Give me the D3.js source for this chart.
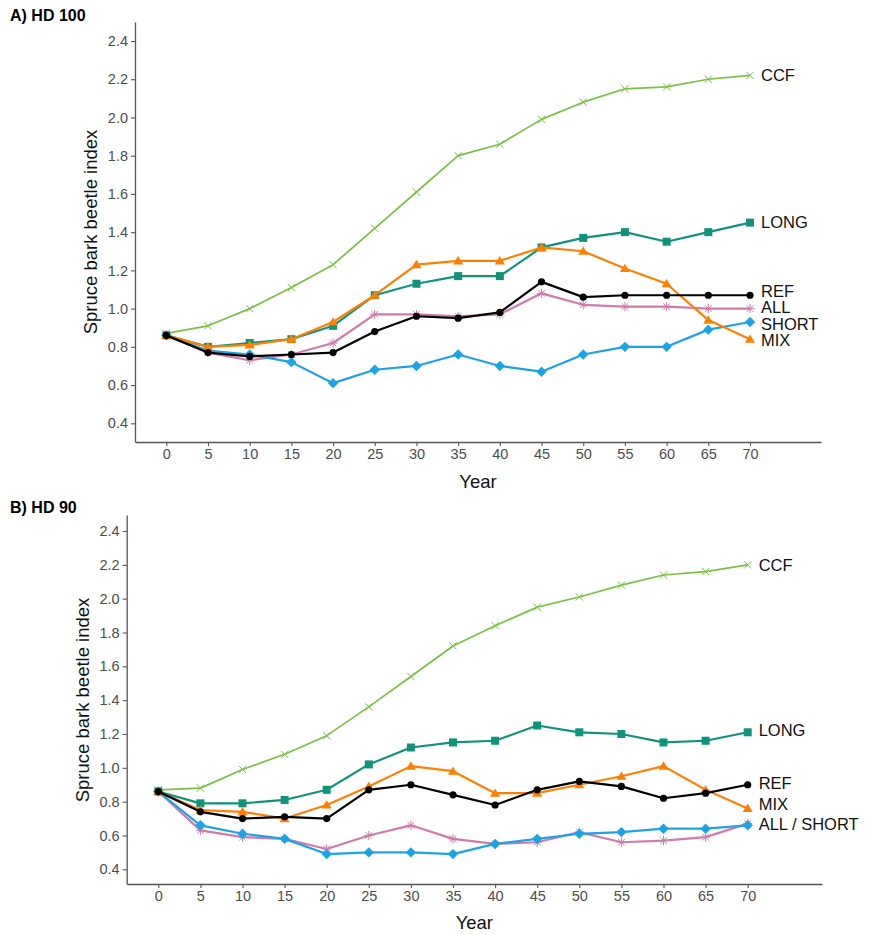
<!DOCTYPE html>
<html><head><meta charset="utf-8">
<script src="https://cdn.jsdelivr.net/npm/d3@7"></script>
<style>
body{margin:0;background:#fff}
text{font-family:Arial,"Liberation Sans",Helvetica,sans-serif}
</style>
</head><body>
<svg id="c" width="872" height="934"></svg>
<script>
// ---------- data ----------
const years = [0,5,10,15,20,25,30,35,40,45,50,55,60,65,70];
const xTicks = [0,5,10,15,20,25,30,35,40,45,50,55,60,65,70];
const yTicks = [0.4,0.6,0.8,1.0,1.2,1.4,1.6,1.8,2.0,2.2,2.4];
const seriesNames = ["ALL","SHORT","CCF","LONG","MIX","REF"];

// A) HD 100
const hd100_CCF   = [0.87,0.91,1.00,1.11,1.23,1.42,1.61,1.80,1.86,1.99,2.08,2.15,2.16,2.20,2.22];
const hd100_LONG  = [0.86,0.80,0.82,0.84,0.91,1.07,1.13,1.17,1.17,1.32,1.37,1.40,1.35,1.40,1.45];
const hd100_MIX   = [0.86,0.80,0.81,0.84,0.93,1.07,1.23,1.25,1.25,1.32,1.30,1.21,1.13,0.94,0.84];
const hd100_REF   = [0.86,0.77,0.75,0.76,0.77,0.88,0.96,0.95,0.98,1.14,1.06,1.07,1.07,1.07,1.07];
const hd100_ALL   = [0.86,0.77,0.73,0.76,0.82,0.97,0.97,0.96,0.97,1.08,1.02,1.01,1.01,1.00,1.00];
const hd100_SHORT = [0.86,0.78,0.76,0.72,0.61,0.68,0.70,0.76,0.70,0.67,0.76,0.80,0.80,0.89,0.93];
const hd100_labels  = ["CCF","LONG","REF","ALL","SHORT","MIX"];
const hd100_labelY  = [2.22,1.45,1.093,1.007,0.918,0.835];

// B) HD 90
const hd90_CCF   = [0.87,0.88,0.99,1.08,1.19,1.36,1.54,1.72,1.84,1.95,2.01,2.08,2.14,2.16,2.20];
const hd90_LONG  = [0.86,0.79,0.79,0.81,0.87,1.02,1.12,1.15,1.16,1.25,1.21,1.20,1.15,1.16,1.21];
const hd90_MIX   = [0.86,0.75,0.74,0.70,0.78,0.89,1.01,0.98,0.85,0.85,0.90,0.95,1.01,0.87,0.76];
const hd90_REF   = [0.86,0.74,0.70,0.71,0.70,0.87,0.90,0.84,0.78,0.87,0.92,0.89,0.82,0.85,0.90];
const hd90_ALL   = [0.86,0.63,0.59,0.58,0.52,0.60,0.66,0.58,0.55,0.56,0.62,0.56,0.57,0.59,0.67];
const hd90_SHORT = [0.86,0.66,0.61,0.58,0.49,0.50,0.50,0.49,0.55,0.58,0.61,0.62,0.64,0.64,0.66];
const hd90_labels = ["CCF","LONG","REF","MIX","ALL / SHORT"];
const hd90_labelY = [2.20,1.222,0.911,0.785,0.666];

// ---------- styles ----------
const colors = {CCF:"#7AC143", LONG:"#0F937A", MIX:"#FF8000", REF:"#000000", ALL:"#D07BAA", SHORT:"#1BA3E6"};
const lineW  = {CCF:1.7, LONG:2.2, MIX:2.2, REF:2.2, ALL:2.2, SHORT:2.2};

const svg = d3.select("#c");

const panels = [
  {title:"A) HD 100", titleX:10, titleY:21, titleSize:16,
   data:{CCF:hd100_CCF, LONG:hd100_LONG, MIX:hd100_MIX, REF:hd100_REF, ALL:hd100_ALL, SHORT:hd100_SHORT},
   labels:hd100_labels, labelY:hd100_labelY,
   xL:135, xR:821, x0:166.3, x70:750, yB:442, yT:22, y04:423.3, y24:41,
   ylabX:97, ylabY:232, xlabY:488},
  {title:"B) HD 90", titleX:10, titleY:513, titleSize:16,
   data:{CCF:hd90_CCF, LONG:hd90_LONG, MIX:hd90_MIX, REF:hd90_REF, ALL:hd90_ALL, SHORT:hd90_SHORT},
   labels:hd90_labels, labelY:hd90_labelY,
   xL:126.7, xR:822, x0:158.3, x70:747.7, yB:884, yT:515, y04:869.3, y24:531,
   ylabX:89, ylabY:700, xlabY:929}
];

function marker(g, name, cx, cy){
  const c = colors[name];
  if(name==="REF"){
    g.append("circle").attr("cx",cx).attr("cy",cy).attr("r",3.6).attr("fill",c);
  } else if(name==="LONG"){
    g.append("rect").attr("x",cx-4).attr("y",cy-4).attr("width",8).attr("height",8).attr("fill",c);
  } else if(name==="MIX"){
    const s=4.8;
    g.append("path").attr("d",`M${cx},${cy-s}L${cx+s*1.05},${cy+s*0.75}L${cx-s*1.05},${cy+s*0.75}Z`).attr("fill",c);
  } else if(name==="SHORT"){
    const s=5.2;
    g.append("path").attr("d",`M${cx},${cy-s}L${cx+s},${cy}L${cx},${cy+s}L${cx-s},${cy}Z`).attr("fill",c);
  } else if(name==="CCF"){
    const r=3.6;
    g.append("path").attr("d",`M${cx-r},${cy-r}L${cx+r},${cy+r}M${cx-r},${cy+r}L${cx+r},${cy-r}`)
      .attr("stroke",c).attr("stroke-width",1).attr("fill","none");
  } else if(name==="ALL"){
    const r=4.6, q=3.3;
    g.append("path").attr("d",`M${cx},${cy-r}L${cx},${cy+r}M${cx-r},${cy}L${cx+r},${cy}M${cx-q},${cy-q}L${cx+q},${cy+q}M${cx-q},${cy+q}L${cx+q},${cy-q}`)
      .attr("stroke",c).attr("stroke-width",1).attr("fill","none");
  }
}

panels.forEach(p=>{
  const g = svg.append("g");
  const x = d3.scaleLinear().domain([0,70]).range([p.x0,p.x70]);
  x.domain([x.invert(p.xL), x.invert(p.xR)]).range([p.xL,p.xR]);
  const y = d3.scaleLinear().domain([0.4,2.4]).range([p.y04,p.y24]);
  y.domain([y.invert(p.yB), y.invert(p.yT)]).range([p.yB,p.yT]);

  const xa = g.append("g").attr("transform",`translate(0,${p.yB})`)
    .call(d3.axisBottom(x).tickValues(xTicks).tickFormat(d3.format("d")).tickSize(4).tickSizeOuter(0).tickPadding(3));
  const ya = g.append("g").attr("transform",`translate(${p.xL},0)`)
    .call(d3.axisLeft(y).tickValues(yTicks).tickFormat(d3.format(".1f")).tickSize(4).tickSizeOuter(0).tickPadding(3));
  [xa,ya].forEach(a=>{
    a.select(".domain").attr("stroke","#555").attr("stroke-width",1.3);
    a.selectAll(".tick line").attr("stroke","#555").attr("stroke-width",1.1);
    a.selectAll(".tick text").attr("fill","#4d4d4d").style("font-size","14.5px");
  });

  g.append("text").attr("x",(p.xL+p.xR)/2).attr("y",p.xlabY).attr("text-anchor","middle")
    .style("font-size","18.5px").attr("fill","#111").text("Year");
  g.append("text").attr("transform",`translate(${p.ylabX},${p.ylabY}) rotate(-90)`).attr("text-anchor","middle")
    .style("font-size","18.5px").attr("fill","#111").text("Spruce bark beetle index");

  g.append("text").attr("x",p.titleX).attr("y",p.titleY).style("font-size",p.titleSize+"px")
    .style("font-weight","bold").attr("fill","#000").text(p.title);

  const line = d3.line().x((d,i)=>x(years[i])).y(d=>y(d));
  seriesNames.forEach(n=>{
    const vals = p.data[n];
    g.append("path").datum(vals).attr("d",line).attr("fill","none")
      .attr("stroke",colors[n]).attr("stroke-width",lineW[n]).attr("stroke-linejoin","round");
    const mg = g.append("g");
    vals.forEach((v,i)=>marker(mg,n,x(years[i]),y(v)));
  });

  p.labels.forEach((t,i)=>{
    g.append("text").attr("x",x(70)+11).attr("y",y(p.labelY[i])).attr("dy","0.35em")
      .style("font-size","16.5px").attr("fill","#111").text(t);
  });
});
</script>
</body></html>
